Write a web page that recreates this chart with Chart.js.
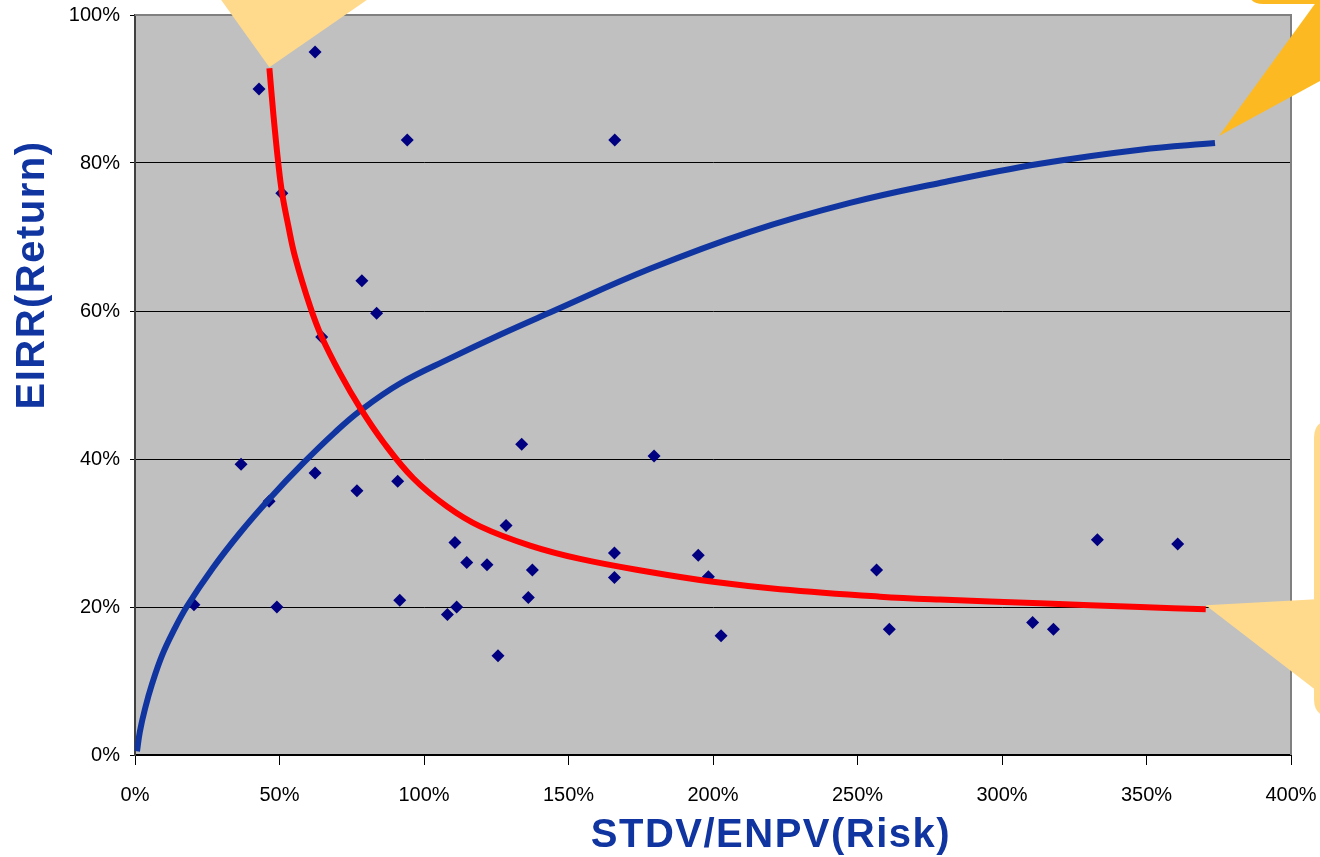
<!DOCTYPE html>
<html>
<head>
<meta charset="utf-8">
<script src="https://cdn.jsdelivr.net/npm/chart.js@4/dist/chart.umd.min.js"></script>
<style>
  html, body { margin: 0; padding: 0; background: #ffffff; }
  #wrap { width: 1320px; height: 857px; }
</style>
</head>
<body>
<div id="wrap"><canvas id="c" width="1320" height="857"></canvas></div>
<script>
// ---- data (percent units) ----
const xTitle = 'STDV/ENPV(Risk)';
const yTitle = 'EIRR(Return)';

const projectRisk = [62.3, 42.9, 94.2, 166.0, 50.8, 78.5, 83.6, 64.6, 36.7, 133.8, 179.6, 46.4, 62.3, 76.8, 90.9, 110.7, 128.4, 114.8, 121.8, 137.5, 165.9, 165.9, 194.9, 198.4, 20.4, 49.1, 91.6, 108.1, 111.3, 136.1, 125.6, 202.8, 256.6, 261.0, 310.6, 317.8, 333.0, 360.8];
const projectReturn = [95.0, 90.0, 83.1, 83.1, 75.9, 64.1, 59.7, 56.5, 39.3, 42.0, 40.4, 34.3, 38.1, 35.7, 37.0, 28.7, 31.0, 26.0, 25.7, 25.0, 27.3, 24.0, 27.0, 24.1, 20.3, 20.0, 20.9, 19.0, 20.0, 21.3, 13.4, 16.1, 25.0, 17.0, 17.9, 17.0, 29.1, 28.5];

const blueRisk   = [0.7, 1.7, 3.5, 5.9, 9.3, 13.5, 18.0, 27.0, 36.3, 46.7, 58.1, 69.2, 78.2, 91.7, 109.0, 126.3, 143.6, 178.2, 212.8, 247.4, 278.5, 313.1, 347.8, 373.7];
const blueReturn = [0.5, 3.2, 6.3, 9.6, 13.4, 16.9, 20.1, 25.3, 30.0, 34.7, 39.4, 43.6, 46.6, 50.2, 53.6, 56.8, 59.8, 65.7, 70.7, 74.6, 77.3, 79.9, 81.8, 82.7];

const redRisk   = [46.5, 47.9, 49.6, 50.9, 53.0, 55.4, 60.6, 64.6, 70.9, 77.9, 85.9, 96.3, 107.9, 119.4, 136.7, 154.0, 177.1, 200.1, 223.2, 257.8, 278.5, 313.1, 347.8, 370.5];
const redReturn = [92.8, 86.5, 79.9, 75.9, 71.6, 67.3, 60.6, 56.5, 51.6, 46.9, 42.3, 37.4, 33.6, 30.9, 28.3, 26.5, 24.8, 23.4, 22.4, 21.4, 21.0, 20.5, 20.0, 19.7];

const xTicksMax = 400, xStep = 50;
const yTicksMax = 100, yStep = 20;

const pts = (xs, ys) => xs.map((x, i) => ({ x: x, y: ys[i] }));

const FONT = '"Liberation Sans", Arial, Helvetica, sans-serif';
const TITLE_BLUE = '#1035A0';
const LIGHT_Y = '#FFDA8C';
const ORANGE = '#FDB922';

function roundRectPath(ctx, x, y, w, h, r) {
  ctx.beginPath();
  ctx.moveTo(x + r, y);
  ctx.lineTo(x + w - r, y);
  ctx.quadraticCurveTo(x + w, y, x + w, y + r);
  ctx.lineTo(x + w, y + h - r);
  ctx.quadraticCurveTo(x + w, y + h, x + w - r, y + h);
  ctx.lineTo(x + r, y + h);
  ctx.quadraticCurveTo(x, y + h, x, y + h - r);
  ctx.lineTo(x, y + r);
  ctx.quadraticCurveTo(x, y, x + r, y);
  ctx.closePath();
}

const framePlugin = {
  id: 'frame',
  beforeDraw(chart) {
    const { ctx, chartArea: a } = chart;
    ctx.save();
    ctx.fillStyle = '#C0C0C0';
    ctx.fillRect(a.left, a.top, a.right - a.left, a.bottom - a.top);
    ctx.restore();
  },
  beforeDatasetsDraw(chart) {
    const { ctx, chartArea: a } = chart;
    ctx.save();
    ctx.strokeStyle = '#808080';
    ctx.lineWidth = 2;
    ctx.beginPath();
    ctx.moveTo(a.left, a.top);
    ctx.lineTo(a.right, a.top);
    ctx.lineTo(a.right, a.bottom);
    ctx.stroke();
    ctx.restore();
  },
  afterDraw(chart) {
    const { ctx, scales } = chart;
    const sx = scales.x, sy = scales.y;
    ctx.save();
    // callout near start of red curve (top-left)
    const t1x = sx.getPixelForValue(redRisk[0]), t1y = sy.getPixelForValue(redReturn[0]) - 1;
    ctx.fillStyle = LIGHT_Y;
    ctx.beginPath();
    ctx.moveTo(t1x, t1y);
    ctx.lineTo(t1x - 48 * 1.3, t1y - 67 * 1.3);
    ctx.lineTo(t1x + 97 * 1.3, t1y - 67 * 1.3);
    ctx.closePath();
    ctx.fill();

    // callout near end of blue curve (top-right, orange)
    const bl = blueRisk.length - 1;
    const t2x = sx.getPixelForValue(blueRisk[bl]) + 4, t2y = sy.getPixelForValue(blueReturn[bl]) - 7;
    ctx.fillStyle = ORANGE;
    ctx.beginPath();
    ctx.moveTo(t2x, t2y);
    ctx.lineTo(t2x + 98 * 1.2, t2y - 135 * 1.2);
    ctx.lineTo(t2x + 101 * 1.2, t2y - 55 * 1.2);
    ctx.closePath();
    ctx.fill();
    roundRectPath(ctx, 1248, -120, 200, 124, 15);
    ctx.fill();

    // callout near end of red curve (right)
    const rl = redRisk.length - 1;
    const t3x = sx.getPixelForValue(redRisk[rl]), t3y = sy.getPixelForValue(redReturn[rl]) - 4;
    ctx.fillStyle = LIGHT_Y;
    roundRectPath(ctx, 1314, 420, 120, 297, 18);
    ctx.fill();
    ctx.beginPath();
    ctx.moveTo(t3x, t3y);
    ctx.lineTo(1316, t3y - 6);
    ctx.lineTo(1316, t3y + 85);
    ctx.closePath();
    ctx.fill();

    // axis titles
    ctx.fillStyle = TITLE_BLUE;
    ctx.font = 'bold 40px ' + FONT;
    try { ctx.letterSpacing = '1.5px'; } catch (e) {}
    ctx.textAlign = 'center';
    ctx.textBaseline = 'alphabetic';
    ctx.fillText(xTitle, 771, 847);
    ctx.translate(44, 275);
    ctx.rotate(-Math.PI / 2);
    ctx.fillText(yTitle, 0, 0);
    ctx.restore();
  }
};

new Chart(document.getElementById('c'), {
  type: 'scatter',
  data: {
    datasets: [
      {
        label: 'Risk trend',
        data: pts(redRisk, redReturn),
        showLine: true,
        borderColor: '#FF0000',
        borderWidth: 6,
        pointRadius: 0,
        tension: 0.4,
        fill: false
      },
      {
        label: 'Return trend',
        data: pts(blueRisk, blueReturn),
        showLine: true,
        borderColor: '#1035A0',
        borderWidth: 6,
        pointRadius: 0,
        tension: 0.4,
        fill: false
      },
      {
        label: 'Projects',
        data: pts(projectRisk, projectReturn),
        pointStyle: 'rectRot',
        pointRadius: 6.5,
        pointBorderWidth: 0,
        backgroundColor: '#000080',
        borderColor: '#000080'
      }
    ]
  },
  options: {
    responsive: false,
    animation: false,
    devicePixelRatio: 1,
    layout: { padding: { left: 0, top: 15, right: 29, bottom: 0 } },
    plugins: { legend: { display: false }, tooltip: { enabled: false } },
    scales: {
      x: {
        type: 'linear',
        min: 0, max: xTicksMax,
        afterFit(scale) { scale.height = 102; scale.paddingLeft = 0; scale.paddingRight = 0; },
        ticks: {
          stepSize: xStep,
          padding: 18,
          color: '#000',
          font: { family: FONT, size: 20 },
          callback: v => v + '%',
          maxRotation: 0
        },
        grid: { drawOnChartArea: false, drawTicks: true, tickLength: 10, color: '#000', lineWidth: 1 },
        border: { display: true, color: '#000', width: 2 }
      },
      y: {
        type: 'linear',
        min: 0, max: yTicksMax,
        afterFit(scale) { scale.width = 135; scale.paddingTop = 0; scale.paddingBottom = 0; },
        ticks: {
          stepSize: yStep,
          padding: 10,
          color: '#000',
          font: { family: FONT, size: 20 },
          callback: v => v + '%'
        },
        grid: {
          drawOnChartArea: true,
          drawTicks: true,
          tickLength: 5,
          color: ctx => (ctx.tick && ctx.tick.value === yTicksMax) ? '#808080' : '#000',
          tickColor: '#000',
          lineWidth: 1
        },
        border: { display: true, color: '#404040', width: 2 }
      }
    }
  },
  plugins: [framePlugin]
});
</script>
</body>
</html>
